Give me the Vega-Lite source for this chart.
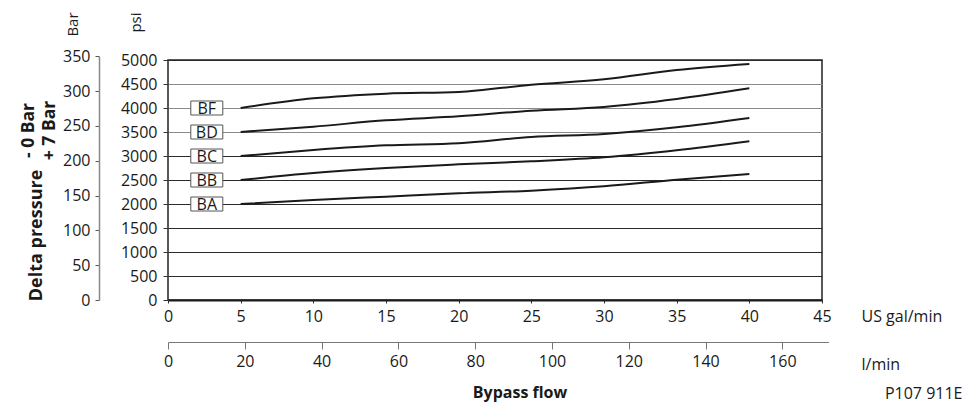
{
  "$schema": "https://vega.github.io/schema/vega-lite/v6.json",
  "autosize": {"type": "none"},
  "width": 654,
  "height": 240,
  "padding": {"left": 168, "top": 60, "right": 151, "bottom": 104},
  "background": "white",
  "config": {
    "font": "Open Sans",
    "view": {"stroke": "#222", "strokeWidth": 1.5},
    "axis": {
      "labelFont": "Open Sans", "labelFontSize": 16, "labelColor": "#1a1a1a",
      "titleFont": "Open Sans", "titleFontSize": 16, "titleColor": "#1a1a1a", "titleFontWeight": "normal",
      "labelFlush": false, "labelOverlap": false, "labelBound": false
    }
  },
  "layer": [
    {
      "layer": [
        {
          "data": {"values": [
            {"series": "BA", "gal": 5, "psi": 2000}, {"series": "BA", "gal": 10, "psi": 2083}, {"series": "BA", "gal": 15, "psi": 2153}, {"series": "BA", "gal": 20, "psi": 2222}, {"series": "BA", "gal": 25, "psi": 2278}, {"series": "BA", "gal": 30, "psi": 2368}, {"series": "BA", "gal": 35, "psi": 2507}, {"series": "BA", "gal": 40, "psi": 2625},
            {"series": "BB", "gal": 5, "psi": 2500}, {"series": "BB", "gal": 10, "psi": 2646}, {"series": "BB", "gal": 15, "psi": 2750}, {"series": "BB", "gal": 20, "psi": 2826}, {"series": "BB", "gal": 25, "psi": 2889}, {"series": "BB", "gal": 30, "psi": 2972}, {"series": "BB", "gal": 35, "psi": 3118}, {"series": "BB", "gal": 40, "psi": 3305},
            {"series": "BC", "gal": 5, "psi": 3000}, {"series": "BC", "gal": 10, "psi": 3125}, {"series": "BC", "gal": 15, "psi": 3222}, {"series": "BC", "gal": 20, "psi": 3264}, {"series": "BC", "gal": 25, "psi": 3396}, {"series": "BC", "gal": 30, "psi": 3458}, {"series": "BC", "gal": 35, "psi": 3597}, {"series": "BC", "gal": 40, "psi": 3791},
            {"series": "BD", "gal": 5, "psi": 3500}, {"series": "BD", "gal": 10, "psi": 3611}, {"series": "BD", "gal": 15, "psi": 3743}, {"series": "BD", "gal": 20, "psi": 3826}, {"series": "BD", "gal": 25, "psi": 3944}, {"series": "BD", "gal": 30, "psi": 4021}, {"series": "BD", "gal": 35, "psi": 4187}, {"series": "BD", "gal": 40, "psi": 4410},
            {"series": "BF", "gal": 5, "psi": 4000}, {"series": "BF", "gal": 10, "psi": 4201}, {"series": "BF", "gal": 15, "psi": 4299}, {"series": "BF", "gal": 20, "psi": 4333}, {"series": "BF", "gal": 25, "psi": 4486}, {"series": "BF", "gal": 30, "psi": 4597}, {"series": "BF", "gal": 35, "psi": 4791}, {"series": "BF", "gal": 40, "psi": 4917}
          ]},
          "mark": {"type": "line", "interpolate": "monotone", "color": "#1a1a1a", "strokeWidth": 2},
          "encoding": {
            "x": {
              "field": "gal", "type": "quantitative",
              "scale": {"domain": [0, 45], "nice": false, "zero": false},
              "axis": {
                "orient": "bottom", "values": [0, 5, 10, 15, 20, 25, 30, 35, 40, 45], "format": "d",
                "grid": false, "domainColor": "#1a1a1a", "domainWidth": 2,
                "tickColor": "#333", "tickSize": 3, "labelPadding": 5,
                "title": "US gal/min", "titleX": 693, "titleY": 21,
                "titleAlign": "left", "titleBaseline": "alphabetic", "titleAngle": 0
              }
            },
            "y": {
              "field": "psi", "type": "quantitative",
              "scale": {"domain": [0, 5000], "nice": false},
              "axis": {
                "orient": "left", "values": [0, 500, 1000, 1500, 2000, 2500, 3000, 3500, 4000, 4500, 5000], "format": "d",
                "grid": true,
                "gridColor": {"condition": {"test": "datum.value >= 3500 && datum.value <= 4500", "value": "#8a8a8a"}, "value": "#2a2a2a"},
                "gridOpacity": 1, "gridWidth": 1,
                "domain": false, "tickColor": "#333", "tickSize": 5, "labelPadding": 6,
                "title": "psi", "titleX": -28, "titleY": -38,
                "titleAlign": "center", "titleBaseline": "alphabetic", "titleAngle": 270, "titleFontSize": 15
              }
            },
            "detail": {"field": "series"}
          }
        },
        {
          "data": {"values": [
            {"series": "BF", "psi": 4000}, {"series": "BD", "psi": 3500}, {"series": "BC", "psi": 3000}, {"series": "BB", "psi": 2500}, {"series": "BA", "psi": 2000}
          ]},
          "mark": {"type": "point", "shape": "M-1,-0.4375H1V0.4375H-1Z", "size": 1024, "filled": true, "fill": "white", "stroke": "#555", "strokeWidth": 1, "opacity": 1},
          "encoding": {
            "x": {
              "datum": 2.67, "type": "quantitative",
              "axis": {
                "orient": "bottom", "values": [0, 5, 10, 15, 20, 25, 30, 35, 40, 45], "format": "d",
                "grid": false, "domainColor": "#1a1a1a", "domainWidth": 2,
                "tickColor": "#333", "tickSize": 3, "labelPadding": 5,
                "title": "US gal/min", "titleX": 693, "titleY": 21,
                "titleAlign": "left", "titleBaseline": "alphabetic", "titleAngle": 0
              }
            },
            "y": {
              "field": "psi", "type": "quantitative",
              "axis": {
                "orient": "left", "values": [0, 500, 1000, 1500, 2000, 2500, 3000, 3500, 4000, 4500, 5000], "format": "d",
                "grid": true,
                "gridColor": {"condition": {"test": "datum.value >= 3500 && datum.value <= 4500", "value": "#8a8a8a"}, "value": "#2a2a2a"},
                "gridOpacity": 1, "gridWidth": 1,
                "domain": false, "tickColor": "#333", "tickSize": 5, "labelPadding": 6,
                "title": "psi", "titleX": -28, "titleY": -38,
                "titleAlign": "center", "titleBaseline": "alphabetic", "titleAngle": 270, "titleFontSize": 15
              }
            }
          }
        },
        {
          "data": {"values": [
            {"series": "BF", "psi": 4000}, {"series": "BD", "psi": 3500}, {"series": "BC", "psi": 3000}, {"series": "BB", "psi": 2500}, {"series": "BA", "psi": 2000}
          ]},
          "mark": {"type": "text", "font": "Open Sans", "fontSize": 16, "color": "#1a1a1a", "align": "center", "baseline": "middle", "dy": 1},
          "encoding": {
            "x": {
              "datum": 2.67, "type": "quantitative",
              "axis": {
                "orient": "bottom", "values": [0, 5, 10, 15, 20, 25, 30, 35, 40, 45], "format": "d",
                "grid": false, "domainColor": "#1a1a1a", "domainWidth": 2,
                "tickColor": "#333", "tickSize": 3, "labelPadding": 5,
                "title": "US gal/min", "titleX": 693, "titleY": 21,
                "titleAlign": "left", "titleBaseline": "alphabetic", "titleAngle": 0
              }
            },
            "y": {
              "field": "psi", "type": "quantitative",
              "axis": {
                "orient": "left", "values": [0, 500, 1000, 1500, 2000, 2500, 3000, 3500, 4000, 4500, 5000], "format": "d",
                "grid": true,
                "gridColor": {"condition": {"test": "datum.value >= 3500 && datum.value <= 4500", "value": "#8a8a8a"}, "value": "#2a2a2a"},
                "gridOpacity": 1, "gridWidth": 1,
                "domain": false, "tickColor": "#333", "tickSize": 5, "labelPadding": 6,
                "title": "psi", "titleX": -28, "titleY": -38,
                "titleAlign": "center", "titleBaseline": "alphabetic", "titleAngle": 270, "titleFontSize": 15
              }
            },
            "text": {"field": "series"}
          }
        }
      ]
    },
    {
      "data": {"values": [{}]},
      "mark": {"type": "point", "opacity": 0},
      "encoding": {
        "x": {
          "datum": 0, "type": "quantitative",
          "scale": {"domain": [0, 172], "range": [0, 660.4], "nice": false, "zero": false},
          "axis": {
            "orient": "bottom", "offset": 42, "values": [0, 20, 40, 60, 80, 100, 120, 140, 160],
            "grid": false, "domainColor": "#777", "domainWidth": 1, "tickColor": "#777", "tickSize": 7, "labelPadding": 4,
            "title": "l/min", "titleX": 693, "titleY": 27, "titleAlign": "left", "titleBaseline": "alphabetic", "titleAngle": 0
          }
        },
        "y": {
          "datum": 0, "type": "quantitative",
          "scale": {"domain": [0, 350], "range": [240, -3.66], "nice": false, "zero": false},
          "axis": {
            "orient": "left", "offset": 69, "values": [0, 50, 100, 150, 200, 250, 300, 350],
            "grid": false, "domainColor": "#888", "domainWidth": 1.5, "tickColor": "#555", "tickSize": 4, "labelPadding": 5,
            "title": "Bar", "titleX": -22, "titleY": -36, "titleAlign": "center", "titleBaseline": "alphabetic", "titleAngle": 270, "titleFontSize": 15
          }
        }
      }
    },
    {
      "data": {"values": [{}]},
      "mark": {"type": "point", "opacity": 0},
      "encoding": {
        "x": {
          "datum": 0, "type": "quantitative", "scale": {"domain": [0, 1]},
          "axis": {
            "orient": "bottom", "domain": false, "ticks": false, "labels": false, "grid": false,
            "title": "Bypass flow", "titleFontWeight": "bold", "titleX": 351.5, "titleY": 97,
            "titleAlign": "center", "titleBaseline": "alphabetic", "titleAngle": 0
          }
        },
        "y": {
          "datum": 0, "type": "quantitative", "scale": {"domain": [0, 1]},
          "axis": {
            "orient": "left", "domain": false, "ticks": false, "labels": false, "grid": false,
            "title": ["-  0 Bar", "+ 7 Bar"], "titleFontWeight": "bold", "titleLineHeight": 21, "titleFontSize": 17.5,
            "titleX": -135, "titleY": 70, "titleAlign": "center", "titleBaseline": "alphabetic", "titleAngle": 270
          }
        }
      }
    },
    {
      "data": {"values": [{}]},
      "mark": {"type": "point", "opacity": 0},
      "encoding": {
        "x": {
          "datum": 0, "type": "quantitative", "scale": {"domain": [0, 1]},
          "axis": {
            "orient": "bottom", "domain": false, "ticks": false, "labels": false, "grid": false,
            "title": "P107 911E", "titleX": 794, "titleY": 98,
            "titleAlign": "right", "titleBaseline": "alphabetic", "titleAngle": 0
          }
        },
        "y": {
          "datum": 0, "type": "quantitative", "scale": {"domain": [0, 1]},
          "axis": {
            "orient": "left", "domain": false, "ticks": false, "labels": false, "grid": false,
            "title": "Delta pressure", "titleFontWeight": "bold", "titleFontSize": 18,
            "titleX": -127, "titleY": 175, "titleAlign": "center", "titleBaseline": "alphabetic", "titleAngle": 270
          }
        }
      }
    }
  ],
  "resolve": {
    "scale": {"x": "independent", "y": "independent"},
    "axis": {"x": "independent", "y": "independent"}
  }
}
